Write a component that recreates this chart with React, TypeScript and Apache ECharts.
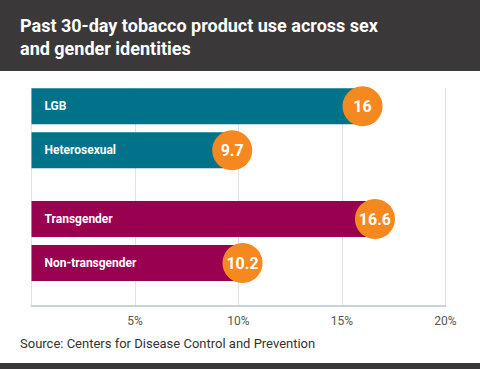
import React, { useEffect, useRef } from "react";
import * as echarts from "echarts";

const titleLines = ["Past 30-day tobacco product use across sex", "and gender identities"];
const sourceText = "Source: Centers for Disease Control and Prevention";

const sexualCategories = ["LGB", "Heterosexual"];
const sexualValues = [16, 9.7];
const genderCategories = ["Transgender", "Non-transgender"];
const genderValues = [16.6, 10.2];

const axisMin = 0;
const axisMax = 20;
const axisStep = 5;

const TEAL = "#00728a";
const MAGENTA = "#990050";
const ORANGE = "#f5891f";
const FONT = "Roboto";

export default function App() {
  const ref = useRef<HTMLDivElement>(null);
  useEffect(() => {
    if (!ref.current) return;
    const chart = echarts.init(ref.current, null, { renderer: "svg" });
    const plotLeft = 31.5;
    const plotRight = 445.3;
    const xAxisBase = {
      type: "value" as const,
      min: axisMin,
      max: axisMax,
      interval: axisStep,
    };
    const hiddenX = (gridIndex: number) => ({
      ...xAxisBase,
      gridIndex,
      show: false,
      splitLine: { show: false },
    });
    const catY = (gridIndex: number, data: string[]) => ({
      type: "category" as const,
      gridIndex,
      data,
      inverse: true,
      show: false,
    });
    const barSeries = (idx: number, data: number[], color: string) => ({
      type: "bar" as const,
      xAxisIndex: idx,
      yAxisIndex: idx,
      data,
      barWidth: 36,
      itemStyle: { color },
      z: 2,
      label: {
        show: true,
        position: "insideLeft",
        distance: 13,
        formatter: "{b}",
        color: "#fff",
        fontFamily: FONT,
        fontWeight: "bold",
        fontSize: 12,
      },
    });
    const dotSeries = (idx: number, cats: string[], vals: number[]) => ({
      type: "scatter" as const,
      xAxisIndex: idx,
      yAxisIndex: idx,
      data: vals.map((v, i) => [v, cats[i]]),
      symbol: "circle",
      symbolSize: 40,
      itemStyle: { color: ORANGE, opacity: 1 },
      z: 5,
      label: {
        show: true,
        position: "inside",
        formatter: (p: any) => String(p.value[0]),
        color: "#fff",
        fontFamily: FONT,
        fontWeight: "bold",
        fontSize: 16,
      },
    });

    chart.setOption({
      animation: false,
      backgroundColor: "#ffffff",
      graphic: [
        { type: "rect", left: 0, top: 0, shape: { x: 0, y: 0, width: 480, height: 71 }, style: { fill: "#3a3839" }, silent: true },
        {
          type: "text",
          left: 20,
          top: 14,
          style: {
            text: titleLines.join("\n"),
            fill: "#ffffff",
            font: `bold 18px ${FONT}`,
            lineHeight: 23,
          },
        },
        {
          type: "text",
          left: 20,
          top: 337,
          style: { text: sourceText, fill: "#333333", font: `13px ${FONT}` },
        },
        { type: "rect", left: 0, top: 363, shape: { x: 0, y: 0, width: 480, height: 6 }, style: { fill: "#3a3839" }, silent: true },
      ],
      grid: [
        { left: plotLeft, right: 480 - plotRight, top: 88, height: 218 },
        { left: plotLeft, right: 480 - plotRight, top: 84.3, height: 88 },
        { left: plotLeft, right: 480 - plotRight, top: 197, height: 88 },
      ],
      xAxis: [
        {
          ...xAxisBase,
          gridIndex: 0,
          axisLine: { show: true, lineStyle: { color: "#cbd3d9", width: 2 } },
          axisTick: { show: false },
          splitLine: { show: true, lineStyle: { color: "#dbe2e8", width: 1 } },
          axisLabel: {
            margin: 9,
            color: "#555555",
            fontFamily: FONT,
            fontSize: 12,
            formatter: (v: number) => (v === 0 ? "" : `${v}%`),
          },
        },
        hiddenX(1),
        hiddenX(2),
      ],
      yAxis: [
        { type: "value", gridIndex: 0, show: false, splitLine: { show: false } },
        catY(1, sexualCategories),
        catY(2, genderCategories),
      ],
      series: [
        barSeries(1, sexualValues, TEAL),
        barSeries(2, genderValues, MAGENTA),
        dotSeries(1, sexualCategories, sexualValues),
        dotSeries(2, genderCategories, genderValues),
      ],
    });
    return () => chart.dispose();
  }, []);
  return (
    <div
      ref={ref}
      style={{ position: "fixed", left: 0, top: 0, width: 480, height: 369 }}
    />
  );
}
